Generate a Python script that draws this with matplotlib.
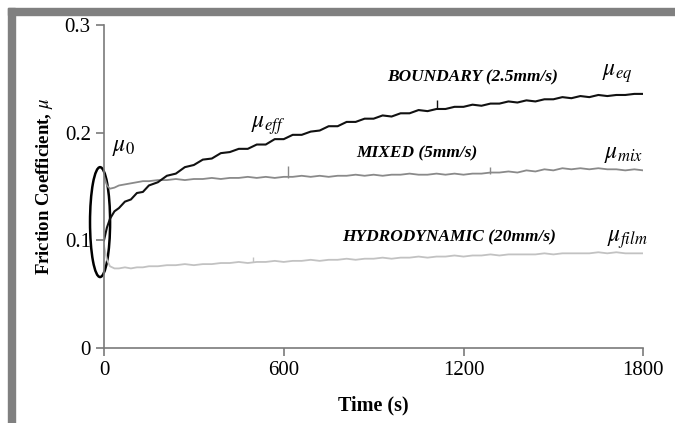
import matplotlib
matplotlib.use('Agg')
import matplotlib.pyplot as plt
from matplotlib.patches import Ellipse, Rectangle

plt.rcParams['font.family'] = ['Liberation Serif', 'DejaVu Serif']
plt.rcParams['mathtext.fontset'] = 'stix'

# time grid (s)
t = [0, 10, 20, 35, 50, 70, 90, 110, 130, 150] + list(range(180, 1801, 30))

boundary = [0.100, 0.112, 0.120, 0.127, 0.130, 0.136, 0.138, 0.144, 0.145, 0.151,
            0.154, 0.160, 0.162, 0.168, 0.170, 0.175, 0.176, 0.181, 0.182, 0.185,
            0.185, 0.189, 0.189, 0.194, 0.194, 0.198, 0.198, 0.201, 0.202, 0.206,
            0.206, 0.210, 0.210, 0.213, 0.213, 0.216, 0.215, 0.218, 0.218, 0.221,
            0.220, 0.222, 0.222, 0.224, 0.224, 0.226, 0.225, 0.227, 0.227, 0.229,
            0.228, 0.230, 0.229, 0.231, 0.231, 0.233, 0.232, 0.234, 0.233, 0.235,
            0.234, 0.235, 0.235, 0.236, 0.236]

mixed = [0.160, 0.151, 0.148, 0.149, 0.151, 0.152, 0.153, 0.154, 0.155, 0.155,
         0.156, 0.156, 0.157, 0.156, 0.157, 0.157, 0.158, 0.157, 0.158, 0.158,
         0.159, 0.158, 0.159, 0.158, 0.159, 0.159, 0.160, 0.159, 0.160, 0.159,
         0.160, 0.160, 0.161, 0.160, 0.161, 0.160, 0.161, 0.161, 0.162, 0.161,
         0.161, 0.162, 0.161, 0.162, 0.161, 0.162, 0.162, 0.163, 0.163, 0.164,
         0.163, 0.165, 0.164, 0.166, 0.165, 0.167, 0.166, 0.167, 0.166, 0.167,
         0.166, 0.166, 0.165, 0.166, 0.165]

hydro = [0.095, 0.082, 0.076, 0.074, 0.074, 0.075, 0.074, 0.075, 0.075, 0.076,
         0.076, 0.077, 0.077, 0.078, 0.077, 0.078, 0.078, 0.079, 0.079, 0.080,
         0.079, 0.080, 0.080, 0.081, 0.080, 0.081, 0.081, 0.082, 0.081, 0.082,
         0.082, 0.083, 0.082, 0.083, 0.083, 0.084, 0.083, 0.084, 0.084, 0.085,
         0.084, 0.085, 0.085, 0.086, 0.085, 0.086, 0.086, 0.087, 0.086, 0.087,
         0.087, 0.087, 0.087, 0.088, 0.087, 0.088, 0.088, 0.088, 0.088, 0.089,
         0.088, 0.089, 0.088, 0.088, 0.088]

# isolated spikes: (time, base, peak)
spikes_b = ([1110], [0.222], [0.230])
spikes_m = ([614, 1290], [0.158, 0.162], [0.169, 0.168])
spikes_h = ([498], [0.080], [0.085])

xticks = [0, 600, 1200, 1800]
xlabels = ['0', '600', '1200', '1800']
yticks = [0, 0.1, 0.2, 0.3]
ylabels = ['0', '0.1', '0.2', '0.3']

fig = plt.figure(figsize=(6.75, 4.23), dpi=100)
ax = fig.add_axes([0.154, 0.177, 0.799, 0.764])

c_b, c_m, c_h = '#111111', '#8a8a8a', '#c2c2c2'
ax.plot(t, hydro, color=c_h, lw=1.3)
ax.plot(t, mixed, color=c_m, lw=1.3)
ax.plot(t, boundary, color=c_b, lw=1.5)
ax.vlines(*spikes_h, color=c_h, lw=1.0)
ax.vlines(*spikes_m, color=c_m, lw=1.0)
ax.vlines(*spikes_b, color=c_b, lw=1.0)

ax.set_xlim(0, 1800)
ax.set_ylim(0, 0.3)
ax.set_xticks(xticks)
ax.set_xticklabels(xlabels)
ax.set_yticks(yticks)
ax.set_yticklabels(ylabels)
for s in ['top', 'right']:
    ax.spines[s].set_visible(False)
for s in ['left', 'bottom']:
    ax.spines[s].set_color('#7a7a7a')
    ax.spines[s].set_linewidth(1.2)
ax.tick_params(colors='#7a7a7a', labelcolor='black', labelsize=15, length=6, width=1.2)

ax.set_xlabel('Time (s)', fontsize=14.5, fontweight='bold', labelpad=11)
ax.set_ylabel(r'Friction Coefficient, $\mu$', fontsize=13.5, fontweight='bold', labelpad=7)

ell = Ellipse((-13, 0.117), 67, 0.102, fill=False, ec='black', lw=1.8, clip_on=False)
ax.add_patch(ell)

lab = dict(fontsize=12.5, fontweight='bold', fontstyle='italic', ha='center', va='center')
ax.text(1229, 0.251, 'BOUNDARY (2.5mm/s)', **lab)
ax.text(1045, 0.181, 'MIXED (5mm/s)', **lab)
ax.text(1152, 0.103, 'HYDRODYNAMIC (20mm/s)', **lab)

mu = dict(fontsize=17, ha='center', va='center')
ax.text(65, 0.186, r'$\mu_0$', **mu)
ax.text(548, 0.207, r'$\mu_{eff}$', **mu)
ax.text(1713, 0.255, r'$\mu_{eq}$', **mu)
ax.text(1733, 0.180, r'$\mu_{mix}$', **mu)
ax.text(1746, 0.101, r'$\mu_{film}$', **mu)

# gray frame on top and left
W, H = 675.0, 423.0
fig.patches.append(Rectangle((8 / W, 0), 7 / W, 1 - 8 / H, transform=fig.transFigure,
                             color='#808080', zorder=0))
fig.patches.append(Rectangle((8 / W, 1 - 15 / H), 1 - 8 / W, 7 / H, transform=fig.transFigure,
                             color='#808080', zorder=0))

fig.savefig('out.png', dpi=100)
